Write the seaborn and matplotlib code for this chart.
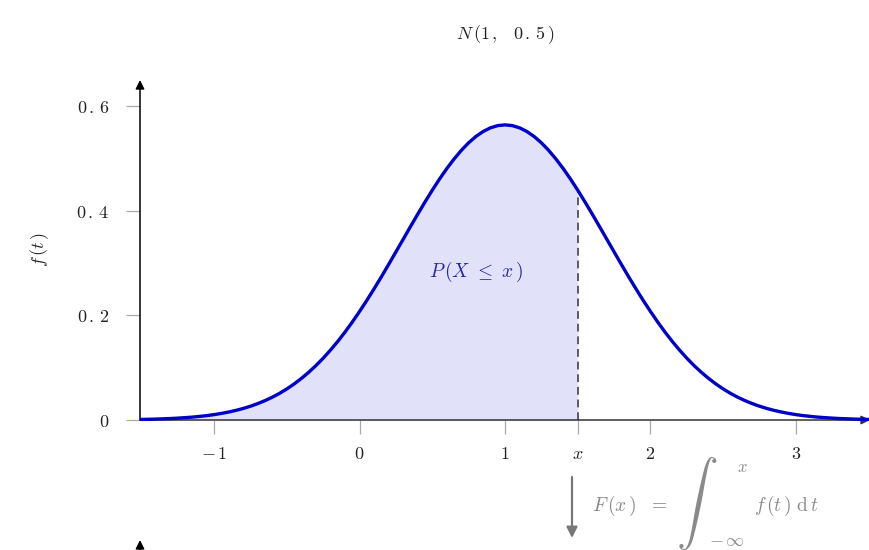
import numpy as np
import pandas as pd
import matplotlib
matplotlib.use("Agg")
import matplotlib.pyplot as plt
import seaborn as sns

# ---- data: N(1, 0.5) density ----
t_values = [-1.5, -1.45, -1.4, -1.35, -1.3, -1.25, -1.2, -1.15, -1.1, -1.05,
            -1.0, -0.95, -0.9, -0.85, -0.8, -0.75, -0.7, -0.65, -0.6, -0.55,
            -0.5, -0.45, -0.4, -0.35, -0.3, -0.25, -0.2, -0.15, -0.1, -0.05,
            0.0, 0.05, 0.1, 0.15, 0.2, 0.25, 0.3, 0.35, 0.4, 0.45,
            0.5, 0.55, 0.6, 0.65, 0.7, 0.75, 0.8, 0.85, 0.9, 0.95,
            1.0, 1.05, 1.1, 1.15, 1.2, 1.25, 1.3, 1.35, 1.4, 1.45,
            1.5, 1.55, 1.6, 1.65, 1.7, 1.75, 1.8, 1.85, 1.9, 1.95,
            2.0, 2.05, 2.1, 2.15, 2.2, 2.25, 2.3, 2.35, 2.4, 2.45,
            2.5, 2.55, 2.6, 2.65, 2.7, 2.75, 2.8, 2.85, 2.9, 2.95,
            3.0, 3.05, 3.1, 3.15, 3.2, 3.25, 3.3, 3.35, 3.4, 3.45, 3.5]
density = [0.0011, 0.0014, 0.0018, 0.0023, 0.0028, 0.0036, 0.0045, 0.0055, 0.0069, 0.0084,
           0.0103, 0.0126, 0.0153, 0.0184, 0.0221, 0.0264, 0.0314, 0.0371, 0.0436, 0.0510,
           0.0595, 0.0689, 0.0795, 0.0912, 0.1041, 0.1183, 0.1337, 0.1503, 0.1682, 0.1873,
           0.2076, 0.2288, 0.2510, 0.2739, 0.2975, 0.3215, 0.3456, 0.3698, 0.3936, 0.4169,
           0.4394, 0.4608, 0.4808, 0.4991, 0.5156, 0.5300, 0.5421, 0.5516, 0.5586, 0.5628,
           0.5642, 0.5628, 0.5586, 0.5516, 0.5421, 0.5300, 0.5156, 0.4991, 0.4808, 0.4608,
           0.4394, 0.4169, 0.3936, 0.3698, 0.3456, 0.3215, 0.2975, 0.2739, 0.2510, 0.2288,
           0.2076, 0.1873, 0.1682, 0.1503, 0.1337, 0.1183, 0.1041, 0.0912, 0.0795, 0.0689,
           0.0595, 0.0510, 0.0436, 0.0371, 0.0314, 0.0264, 0.0221, 0.0184, 0.0153, 0.0126,
           0.0103, 0.0084, 0.0069, 0.0055, 0.0045, 0.0036, 0.0028, 0.0023, 0.0018, 0.0014,
           0.0011]
x_cut = 1.5
x_ticks = [-1, 0, 1, 1.5, 2, 3]
x_tick_labels = [r"$-\,1$", r"$0$", r"$1$", r"$x$", r"$2$", r"$3$"]
y_ticks = [0, 0.2, 0.4, 0.6]
y_tick_labels = [r"$0$", r"$0\,.\,2$", r"$0\,.\,4$", r"$0\,.\,6$"]
title_text = r"$N\,(1\,,\ \ \,0\,.\,5\,)$"
ylabel_text = r"$f\,(t\,)$"
area_text = r"$P\,(X\ \leq\ x\,)$"

df = pd.DataFrame({"t": t_values, "f": density})

sns.set_theme(style="white")
plt.rcParams["mathtext.fontset"] = "cm"
plt.rcParams["font.family"] = ["DejaVu Serif"]

fig = plt.figure(figsize=(8.7, 5.5), dpi=100)
fig.patch.set_facecolor("white")
ax = fig.add_axes([140 / 870, 130 / 550, 730 / 870, 340 / 550])
ax.set_facecolor("none")

# shaded area up to x
sub = df[df["t"] <= x_cut + 1e-9]
ax.fill_between(sub["t"], 0, sub["f"], color="#e1e1fa", lw=0, zorder=1)

# dashed line at x
f_at_x = float(df.loc[(df["t"] - x_cut).abs().idxmin(), "f"])
ax.plot([x_cut, x_cut], [0, f_at_x], ls=(0, (4, 2.5)), color="#5a5a66", lw=1.4, zorder=2)

# curve
sns.lineplot(data=df, x="t", y="f", ax=ax, color="#0000c8", lw=2.4, zorder=4,
             clip_on=False)

ax.set_xlim(-1.51, 3.51)
ax.set_ylim(0, 0.65)
for s in ax.spines.values():
    s.set_visible(False)
ax.set_xlabel("")
ax.set_ylabel("")

ax.set_xticks(x_ticks)
ax.set_xticklabels(x_tick_labels)
ax.set_yticks(y_ticks)
ax.set_yticklabels(y_tick_labels)
ax.tick_params(axis="both", direction="out", length=10, width=0.9, color="#aaaaaa",
               labelsize=13, labelcolor="#222222")
ax.tick_params(axis="x", pad=8)
ax.tick_params(axis="y", pad=12)
ax.xaxis.set_ticks_position("bottom")
ax.yaxis.set_ticks_position("left")

# axes with arrows
ax.annotate("", xy=(1.0, 0), xytext=(0, 0), xycoords="axes fraction",
            arrowprops=dict(arrowstyle="-|>", color="#333333", lw=1.1,
                            mutation_scale=13, shrinkA=0, shrinkB=0), zorder=3)
ax.annotate("", xy=(0, 1.0), xytext=(0, 0), xycoords="axes fraction",
            arrowprops=dict(arrowstyle="-|>", color="black", lw=1.1,
                            mutation_scale=13, shrinkA=0, shrinkB=0), zorder=3)

ax.text(0.80, 0.283, area_text, color="#2a2a9a", fontsize=14, ha="center", va="center")

fig.text(505 / 870, 1 - 35 / 550, title_text, fontsize=13, ha="center", va="center",
         color="#222222")
fig.text(40 / 870, 1 - 250 / 550, ylabel_text, fontsize=13, ha="center", va="center",
         rotation=90, color="#222222")

# cumulative annotation below
gray = "#8a8a8a"
ax.annotate("", xy=(572 / 870, 1 - 538 / 550), xytext=(572 / 870, 1 - 477 / 550),
            xycoords="figure fraction", annotation_clip=False,
            arrowprops=dict(arrowstyle="-|>", color="#777777", lw=1.6,
                            mutation_scale=16, shrinkA=0, shrinkB=0))
fig.text(592 / 870, 1 - 506 / 550, r"$F\,(x\,)\ \ =$", fontsize=14, color=gray,
         ha="left", va="center")
fig.text(697 / 870, 1 - 503 / 550, r"$\int$", fontsize=30, color=gray,
         ha="center", va="center")
fig.text(742 / 870, 1 - 467 / 550, r"$x$", fontsize=12, color=gray,
         ha="center", va="center")
fig.text(727 / 870, 1 - 541 / 550, r"$-\,\infty$", fontsize=13, color=gray,
         ha="center", va="center")
fig.text(754 / 870, 1 - 506 / 550, r"$f\,(t\,)\ \mathrm{d}\,t$", fontsize=14, color=gray,
         ha="left", va="center")

# start of the next (cropped) axis
ax.annotate("", xy=(140 / 870, 1 - 540 / 550), xytext=(140 / 870, -0.02),
            xycoords="figure fraction", annotation_clip=False,
            arrowprops=dict(arrowstyle="-|>", color="black", lw=1.1,
                            mutation_scale=13, shrinkA=0, shrinkB=0))

fig.savefig("out.png", dpi=100, facecolor="white")
